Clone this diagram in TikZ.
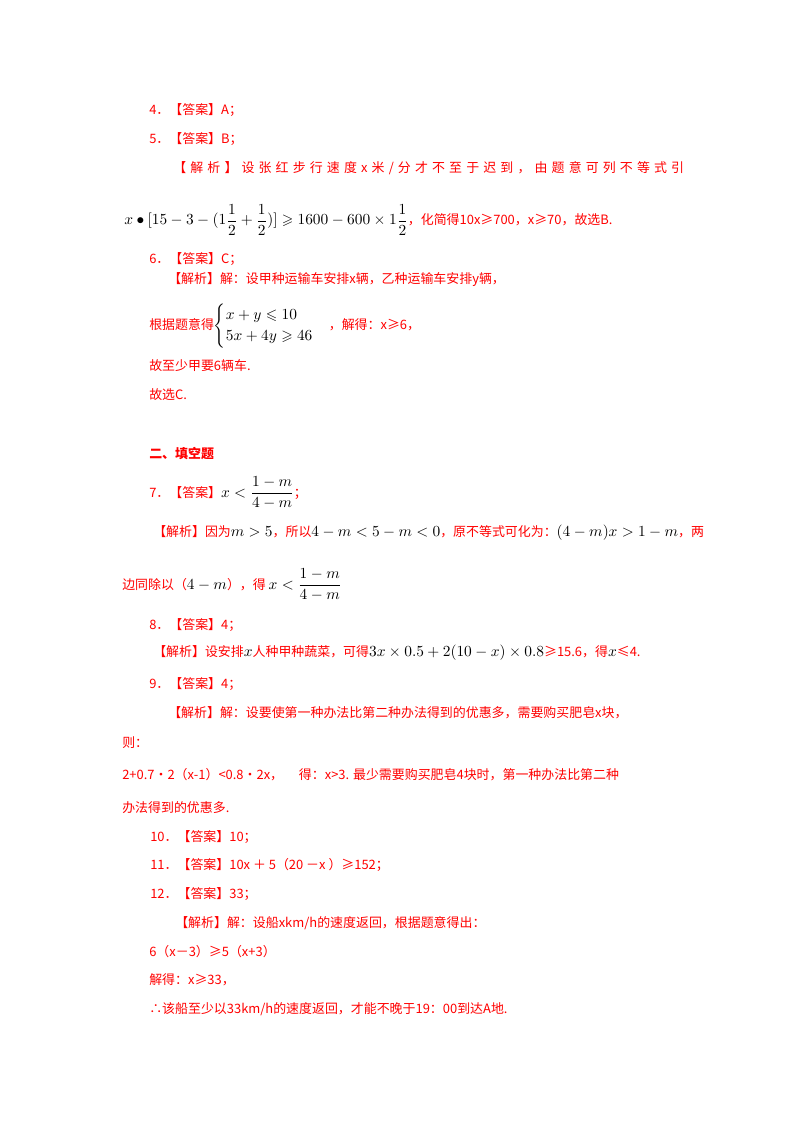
\documentclass[tikz,border=0pt]{standalone}
\usepackage{amsmath}
\usepackage{amssymb}
\usepackage{fontspec}
\newfontfamily\cjk{Noto Sans CJK SC}
\newfontfamily\cjkwide[LetterSpace=32]{Noto Sans CJK SC}
\newcommand{\blk}[1]{\textcolor{black}{\fontsize{10.5}{12}\selectfont#1}}
\tikzset{
  txt/.style={anchor=west, inner sep=0pt, text=red, font=\cjk\fontsize{9.2}{11}\selectfont},
  head/.style={txt, font=\cjk\bfseries\fontsize{9.2}{11}\selectfont}
}

\begin{document}
\begin{tikzpicture}[x=0.025cm, y=-0.025cm]
        \useasboundingbox (0,0) rectangle (800,1132);

        \node[txt] (q4) at (149,110) {4．【答案】A；};
        \node[txt] (q5) at (149,139) {5．【答案】B；};
        \node[txt] (e5) at (173,168) {\cjkwide 【解析】设张红步行速度x米/分才不至于迟到，由题意可列不等式引};
        \node[txt] (f5) at (124,220) {\blk{$x\bullet[15-3-(1\dfrac12+\dfrac12)]\geqslant 1600-600\times1\dfrac12$}，化简得10x≥700，x≥70，故选B.};
        \node[txt] (q6) at (149,259) {6．【答案】C；};
        \node[txt] (e6) at (168,280) {【解析】解：设甲种运输车安排x辆，乙种运输车安排y辆，};
        \node[txt] (c6) at (149,326) {根据题意得\blk{$\begin{cases}x+y\leqslant 10\\ 5x+4y\geqslant 46\end{cases}$}，解得：x≥6，};
        \node[txt] (r6) at (149,366) {故至少甲要6辆车.};
        \node[txt] (t6) at (149,395) {故选C.};

        \node[head] (sec) at (149,454) {二、填空题};

        \node[txt] (q7) at (149,493) {7．【答案】\blk{$x<\dfrac{1-m}{4-m}$}；};
        \node[txt] (e7) at (153,533) {【解析】因为\blk{$m>5$}，所以\blk{$4-m<5-m<0$}，原不等式可化为：\blk{$(4-m)x>1-m$}，两};
        \node[txt] (f7) at (122,585) {边同除以（\blk{$4-m$}），得 \blk{$x<\dfrac{1-m}{4-m}$}};
        \node[txt] (q8) at (149,625) {8．【答案】4；};
        \node[txt] (e8) at (153,653) {【解析】设安排\blk{$x$}人种甲种蔬菜，可得\blk{$3x\times0.5+2(10-x)\times0.8$}≥15.6，得\blk{$x$}≤4.};
        \node[txt] (q9) at (149,684) {9．【答案】4；};
        \node[txt] (e9) at (168,713) {【解析】解：设要使第一种办法比第二种办法得到的优惠多，需要购买肥皂x块，};
        \node[txt] (f9) at (122,743) {则：};
        \node[txt] (g9) at (122,775) {2+0.7•2（x-1）<0.8•2x，\quad\ 得：x>3. 最少需要购买肥皂4块时，第一种办法比第二种};
        \node[txt] (h9) at (122,808) {办法得到的优惠多.};
        \node[txt] (q10) at (150,837) {10．【答案】10；};
        \node[txt] (q11) at (150,865) {11．【答案】10x ＋ 5（20 －x ）≥152；};
        \node[txt] (q12) at (150,894) {12．【答案】33；};
        \node[txt] (e12) at (175,923) {【解析】解：设船xkm/h的速度返回，根据题意得出：};
        \node[txt] (f12) at (149,952) {6（x－3）≥5（x+3）};
        \node[txt] (g12) at (149,980) {解得：x≥33，};
        \node[txt] (h12) at (149,1009) {∴该船至少以33km/h的速度返回，才能不晚于19：00到达A地.};
    \end{tikzpicture}
\end{document}
